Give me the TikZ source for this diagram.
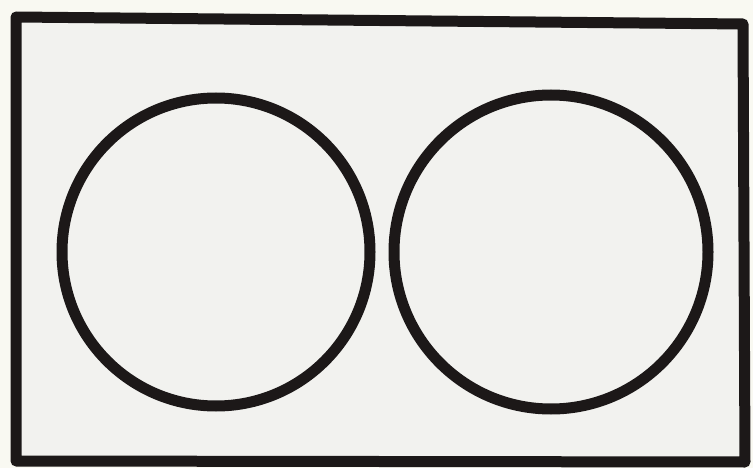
\documentclass[tikz,border=0pt]{standalone}
\definecolor{ink}{HTML}{1C1818}
\definecolor{paper}{HTML}{F2F2EF}
\definecolor{outside}{HTML}{F9F9F2}
\tikzset{
  ring/.style={circle, draw=ink, line width=11pt, inner sep=0pt},
  frame/.style={draw=ink, fill=paper, line width=11pt, line join=round}
}
\begin{document}
\begin{tikzpicture}[x=1pt,y=-1pt]
  \fill[outside] (0,0) rectangle (753,468);
  \useasboundingbox (0,0) rectangle (753,468);
  \coordinate (tl) at (16,17);
  \coordinate (tr) at (743,24);
  \coordinate (br) at (745,462);
  \coordinate (bl) at (16,461);
  \draw[frame] (tl) -- (tr) -- (br) -- (bl) -- cycle;
  \node[ring, minimum size=308pt] (left) at (216,252) {};
  \node[ring, minimum size=314pt] (right) at (551,252) {};
\end{tikzpicture}
\end{document}
